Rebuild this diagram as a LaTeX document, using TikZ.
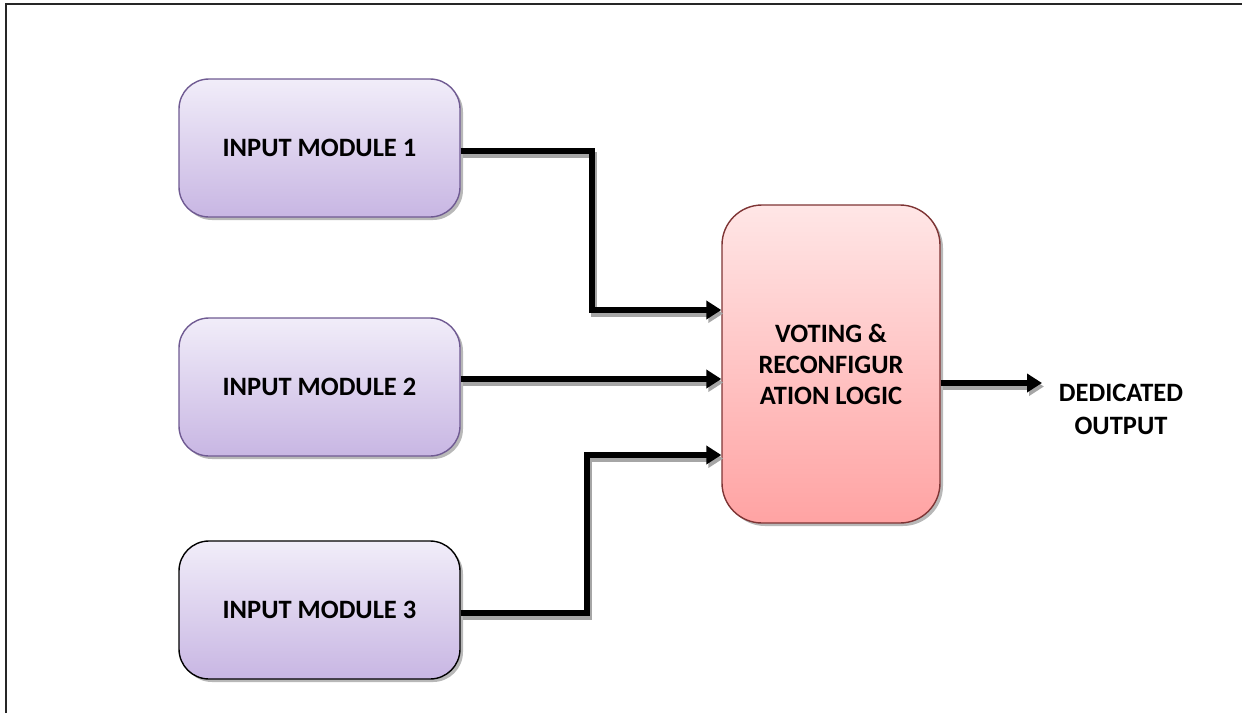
\documentclass[tikz,border=0pt]{standalone}
\usepackage{fontspec}
\setmainfont{Carlito}
\usetikzlibrary{arrows.meta,shadows,calc}

\definecolor{lilacTop}{HTML}{F1EDF9}
\definecolor{lilacBot}{HTML}{C8B6E3}
\definecolor{lilacEdge}{HTML}{6F5A92}
\definecolor{roseTop}{HTML}{FFE6E6}
\definecolor{roseBot}{HTML}{FFA3A3}
\definecolor{roseEdge}{HTML}{7E3434}
\definecolor{shade}{HTML}{A6A6A6}

\tikzset{
  module/.style={rectangle, rounded corners=30pt, draw=lilacEdge, line width=1.4pt,
    top color=lilacTop, bottom color=lilacBot,
    minimum width=281pt, minimum height=138pt,
    drop shadow={shadow xshift=3pt, shadow yshift=-3pt, fill=shade, opacity=0.8},
    font=\fontsize{26.5}{31}\selectfont\bfseries},
  logic/.style={rectangle, rounded corners=40pt, draw=roseEdge, line width=1.4pt,
    top color=roseTop, bottom color=roseBot,
    minimum width=218pt, minimum height=318pt, align=center,
    drop shadow={shadow xshift=3pt, shadow yshift=-3pt, fill=shade, opacity=0.8},
    font=\fontsize{26.5}{31}\selectfont\bfseries},
  label/.style={align=center, font=\fontsize{26.5}{33}\selectfont\bfseries},
  flow/.style={line width=6pt, -{Triangle[length=15pt,width=18pt]}},
  frameline/.style={line width=1.6pt, black!85}
}

\begin{document}
\begin{tikzpicture}[x=1pt,y=-1pt]
  \useasboundingbox (0,0) rectangle (1242,713);

  % outer frame (only top and left edges are inside the page)
  \draw[frameline] (6,713) -- (6,4) -- (1242,4);

  % blocks
  \node[module] (m1) at (319.5,148) {INPUT MODULE 1};
  \node[module] (m2) at (319.5,387) {INPUT MODULE 2};
  \node[module, draw=black] (m3) at (319.5,610) {INPUT MODULE 3};
  \node[logic] (vote) at (831,364) {VOTING \&\\RECONFIGUR\\ATION LOGIC};
  \node[label] (out) at (1121,409) {DEDICATED\\OUTPUT};

  % entry points on the voter
  \coordinate (in1) at (vote.west |- 0,310);
  \coordinate (in2) at (vote.west |- 0,379);
  \coordinate (in3) at (vote.west |- 0,455);
  \coordinate (outtip) at (1042,383);
  \coordinate (outsrc) at (vote.east |- outtip);

  \newcommand{\wires}[1]{%
    \draw[flow,#1] ([yshift=-3pt]m1.east) -- ++(131,0) |- (in1);
    \draw[flow,#1] (m2.east |- in2) -- (in2);
    \draw[flow,#1] ([yshift=-3pt]m3.east) -- ++(126,0) |- (in3);
    \draw[flow,#1] (outsrc) -- (outtip);
  }

  % connector shadows, then connectors
  \begin{scope}[transform canvas={shift={(2pt,-3.5pt)}}]
    \wires{draw=shade}
  \end{scope}
  \wires{draw=black}
\end{tikzpicture}
\end{document}
